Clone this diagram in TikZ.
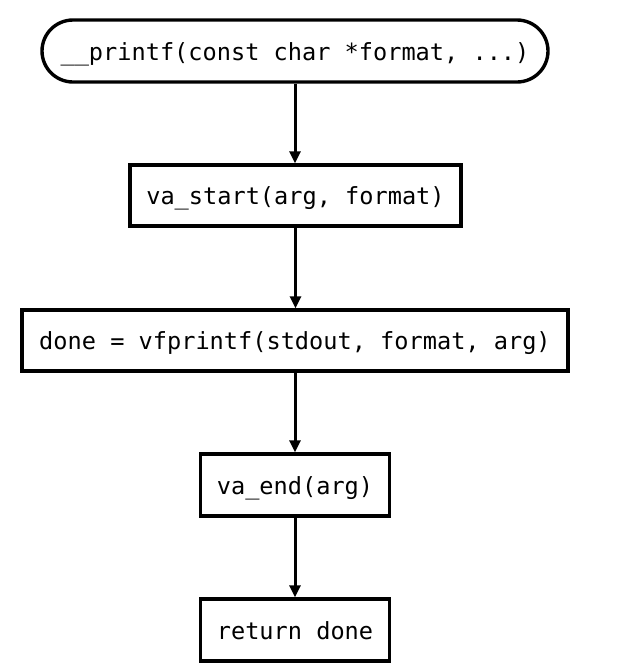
\documentclass[tikz,border=0pt]{standalone}
\usepackage{fontspec}
\setmonofont{DejaVu Sans Mono}
\usetikzlibrary{arrows.meta}
\begin{document}
\begin{tikzpicture}[x=1pt,y=-1pt,
  box/.style={draw=black, line width=3.4pt, fill=white, inner sep=0pt, align=center,
    text height=20pt, text depth=2pt,
    font=\fontsize{23.6}{28}\selectfont\ttfamily},
  term/.style={box, rounded corners=31pt},
  flow/.style={line width=3pt, -{Triangle[length=12pt,width=11pt]}}]
\useasboundingbox (0,0) rectangle (636,670);
\fill[white] (0,0) rectangle (636,670);
\node[term, minimum width=506pt, minimum height=62pt] (a) at (295,51) {\_\_printf(const char *format, ...)};
\node[box, minimum width=331pt, minimum height=61pt] (b) at (295.5,195.5) {va\_start(arg, format)};
\node[box, minimum width=546pt, minimum height=61pt] (c) at (295,340.5) {done = vfprintf(stdout, format, arg)};
\node[box, minimum width=189pt, minimum height=62pt] (d) at (295,485) {va\_end(arg)};
\node[box, minimum width=189pt, minimum height=62pt] (e) at (295,630) {return done};
\draw[flow] (a) -- (a|-b.north);
\draw[flow] (b) -- (b|-c.north);
\draw[flow] (c.south-|d) -- (d);
\draw[flow] (d) -- (e);
\end{tikzpicture}
\end{document}
